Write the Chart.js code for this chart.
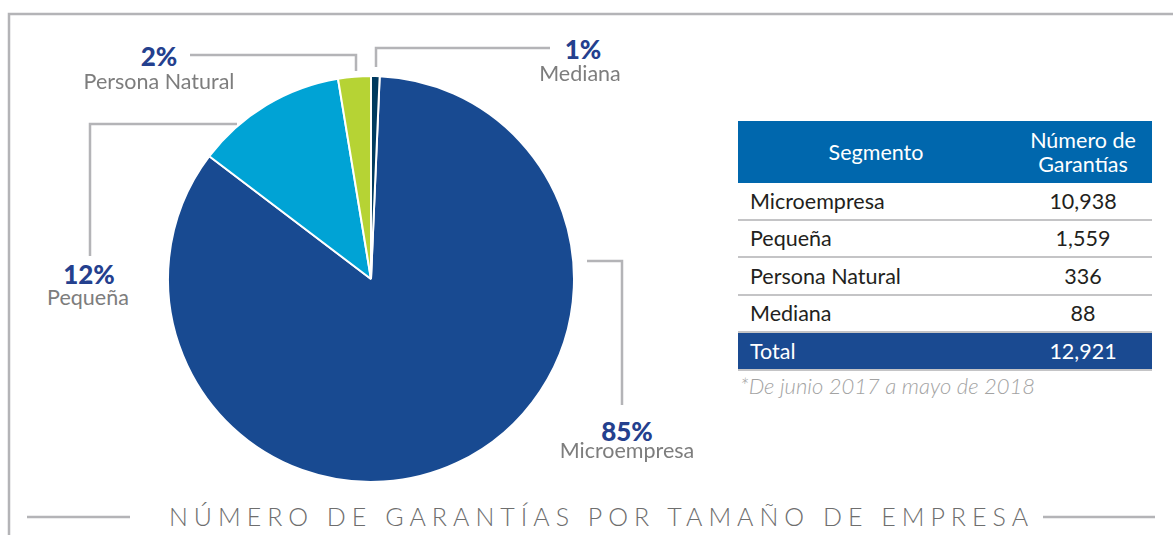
<!DOCTYPE html>
<html>
<head>
<meta charset="utf-8">
<script src="https://cdn.jsdelivr.net/npm/chart.js@4.4.1/dist/chart.umd.min.js"></script>
<style>
  html, body { margin:0; padding:0; background:#fff; }
  body { width:1173px; height:535px; position:relative; overflow:hidden; font-family: Lato, "Open Sans", sans-serif; }
  #wrap { position:absolute; left:167px; top:75px; width:408px; height:408px; }
  svg { position:absolute; left:0; top:0; }
  .lbl { position:absolute; transform:translate(-50%,-50%); line-height:1; white-space:nowrap; text-align:center; }
  .pct { font-weight:900; color:#24408E; font-size:26px; }
  .name { color:#7d7d7d; font-size:21.5px; }
  table { position:absolute; left:738px; top:121px; width:414px; border-collapse:collapse; font-size:21.5px; color:#231f20; }
  th { background:#0067AD; color:#fff; font-weight:400; height:62px; padding:0; line-height:24px; }
  td { height:35.5px; padding:0; border-bottom:2px solid #c4c4c6; }
  td.n { text-align:center; }
  td.s { padding-left:12px; }
  tr.total td { background:#1A4A91; color:#fff; border-bottom:2px solid #c4c4c6; }
  #note { position:absolute; left:740px; top:372px; font-style:italic; font-weight:300; color:#a3a3a3; font-size:22px; }
  #title { position:absolute; left:0; width:1173px; top:501px; text-align:center; font-size:25px; font-weight:300; letter-spacing:6px; color:#6e6e6e; padding-left:15px; }
</style>
</head>
<body>
<svg width="1173" height="535">
  <g stroke="#b4b4b7" stroke-width="2.5" fill="none">
    <polyline points="9,535 9,14 1173,14"/>
    <line x1="27" y1="517" x2="130" y2="517"/>
    <line x1="1043" y1="517" x2="1155" y2="517"/>
    <polyline points="190,55 356,55 356,71"/>
    <polyline points="376,67 376,48 550,48"/>
    <polyline points="237,124 90,124 90,256"/>
    <polyline points="587,261 622,261 622,405"/>
  </g>
</svg>
<div id="wrap"><canvas id="c" width="408" height="408"></canvas></div>
<div class="lbl pct" style="left:159px;top:56px;">2%</div>
<div class="lbl name" style="left:159px;top:82px;">Persona Natural</div>
<div class="lbl pct" style="left:583px;top:49px;">1%</div>
<div class="lbl name" style="left:580px;top:74px;">Mediana</div>
<div class="lbl pct" style="left:89px;top:274px;">12%</div>
<div class="lbl name" style="left:88px;top:298px;">Pequeña</div>
<div class="lbl pct" style="left:627px;top:431px;">85%</div>
<div class="lbl name" style="left:627px;top:451px;">Microempresa</div>

<table id="tbl">
  <thead><tr><th style="width:276px;">Segmento</th><th>Número de<br>Garantías</th></tr></thead>
  <tbody id="tb"></tbody>
</table>
<div id="note">*De junio 2017 a mayo de 2018</div>
<div id="title">NÚMERO DE GARANTÍAS POR TAMAÑO DE EMPRESA</div>

<script>
const categories = ['Microempresa', 'Pequeña', 'Persona Natural', 'Mediana'];
const garantias = [10938, 1559, 336, 88];
const pctLabels = ['85%', '12%', '2%', '1%'];
const colors = ['#184A91', '#00A3D5', '#B6D334', '#003A5F'];
const totalLabel = 'Total';

const total = garantias.reduce((a, b) => a + b, 0);
const fmt = v => v.toLocaleString('en-US');

const tb = document.getElementById('tb');
categories.forEach((c, i) => {
  const tr = document.createElement('tr');
  tr.innerHTML = '<td class="s">' + c + '</td><td class="n">' + fmt(garantias[i]) + '</td>';
  tb.appendChild(tr);
});
const trt = document.createElement('tr');
trt.className = 'total';
trt.innerHTML = '<td class="s">' + totalLabel + '</td><td class="n">' + fmt(total) + '</td>';
tb.appendChild(trt);

new Chart(document.getElementById('c'), {
  type: 'pie',
  data: {
    labels: categories,
    datasets: [{
      data: garantias,
      backgroundColor: colors,
      borderColor: '#ffffff',
      borderWidth: 2
    }]
  },
  options: {
    responsive: false,
    animation: false,
    rotation: garantias[3] / total * 360,
    layout: { padding: 0 },
    plugins: { legend: { display: false }, tooltip: { enabled: false } }
  }
});
</script>
</body>
</html>
